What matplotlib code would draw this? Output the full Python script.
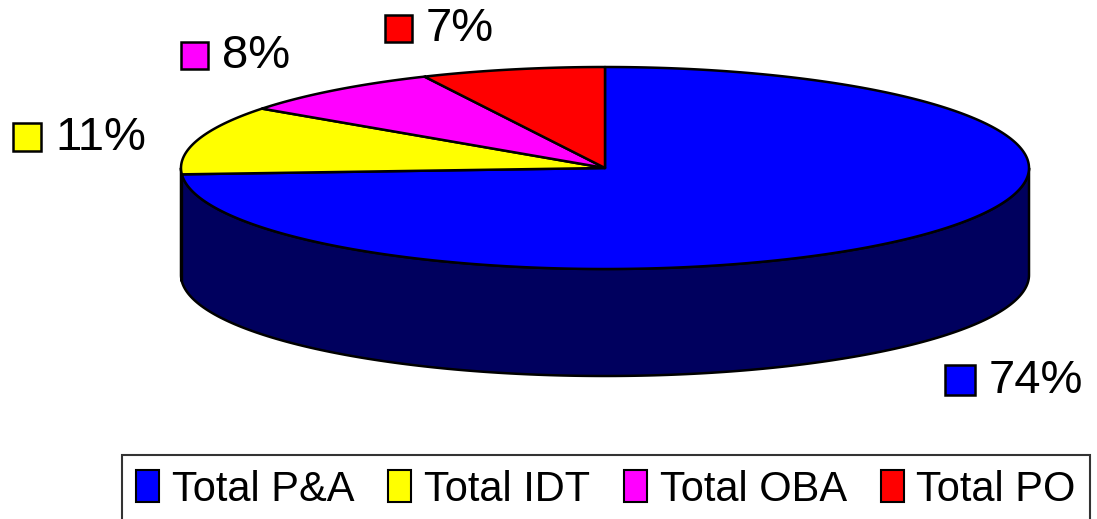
import numpy as np
import matplotlib
matplotlib.use("Agg")
import matplotlib.pyplot as plt
from matplotlib.patches import Polygon, Rectangle, Patch

plt.rcParams['font.family'] = ['Liberation Sans', 'DejaVu Sans']

# data
categories = ["Total P&A", "Total IDT", "Total OBA", "Total PO"]
shares = [74, 11, 8, 7]
top_colors = ["#0000ff", "#ffff00", "#ff00ff", "#ff0000"]
side_colors = ["#00005e", "#6b6b00", "#6b006b", "#6b0000"]

# layout of the 3d pie, in pixels
CX, CY = 605, 168
RX, RY = 424, 101
DEPTH = 107
LW = 1.8

# where the percent labels sit (square left x, square centre y, square size)
label_pos = [(945, 380, 30), (13, 137, 28), (181, 55, 27), (385, 28, 27)]

fig = plt.figure(figsize=(10.97, 5.19), dpi=100)
ax = fig.add_axes([0, 0, 1, 1])
ax.set_xlim(0, 1097)
ax.set_ylim(519, 0)
ax.axis('off')


def rim(theta, dy=0.0):
    t = np.radians(theta)
    return np.column_stack([CX + RX * np.sin(t), CY - RY * np.cos(t) + dy])


total = float(sum(shares))
edges = np.concatenate([[0], np.cumsum(shares) / total * 360.0])

# side walls (only the front half, 90..270 deg clockwise from top, is visible)
for i in range(len(shares)):
    lo = max(edges[i], 90.0)
    hi = min(edges[i + 1], 270.0)
    if hi <= lo:
        continue
    th = np.linspace(lo, hi, 200)
    pts = np.vstack([rim(th), rim(th[::-1], DEPTH)])
    ax.add_patch(Polygon(pts, closed=True, facecolor=side_colors[i],
                         edgecolor='black', linewidth=LW, joinstyle='round'))

# top face
for i in range(len(shares)):
    th = np.linspace(edges[i], edges[i + 1], 300)
    pts = np.vstack([[CX, CY], rim(th)])
    ax.add_patch(Polygon(pts, closed=True, facecolor=top_colors[i],
                         edgecolor='black', linewidth=LW, joinstyle='round'))

# percent labels with colour keys
for (x, y, s), val, col in zip(label_pos, shares, top_colors):
    ax.add_patch(Rectangle((x, y - s / 2), s, s, facecolor=col,
                           edgecolor='black', linewidth=1.8))
    ax.text(x + s + 14, y + 1, f"{val}%", fontsize=34, va='center', ha='left')

handles = [Patch(facecolor=c, edgecolor='black', linewidth=1.5) for c in top_colors]
leg = fig.legend(handles, categories, loc='upper center', ncol=4,
                 bbox_to_anchor=(606 / 1097, 1 - 455 / 519),
                 fontsize=30, frameon=True, fancybox=False,
                 handlelength=0.55, handleheight=0.8, handletextpad=0.3,
                 columnspacing=0.82, borderpad=0.35, borderaxespad=0)
leg.get_frame().set_edgecolor('black')
leg.get_frame().set_linewidth(1.5)

fig.savefig("out.png", dpi=100)
